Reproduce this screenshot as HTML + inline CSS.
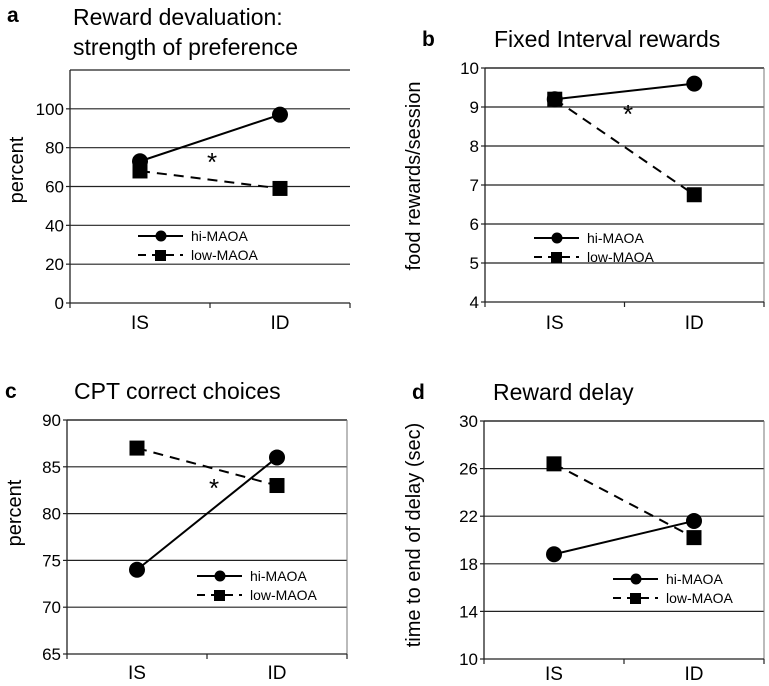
<!DOCTYPE html>
<html><head><meta charset="utf-8"><style>
html,body{margin:0;padding:0;background:#fff;}
svg{display:block;font-family:"Liberation Sans",Arial,sans-serif;}
</style></head><body>
<svg id="fig" width="769" height="686" viewBox="0 0 769 686" xmlns="http://www.w3.org/2000/svg"></svg>
<script>
// Panel data
const categories = ["IS", "ID"];
const aHi = [73, 97];
const aLow = [68, 59];
const aTicks = [0, 20, 40, 60, 80, 100];
const bHi = [9.2, 9.6];
const bLow = [9.2, 6.75];
const bTicks = [4, 5, 6, 7, 8, 9, 10];
const cHi = [74, 86];
const cLow = [87, 83];
const cTicks = [65, 70, 75, 80, 85, 90];
const dHi = [18.8, 21.6];
const dLow = [26.4, 20.2];
const dTicks = [10, 14, 18, 22, 26, 30];

const NS = "http://www.w3.org/2000/svg";
const svg = document.getElementById("fig");
function mk(tag, attrs, parent, text) {
  const e = document.createElementNS(NS, tag);
  for (const k in attrs) e.setAttribute(k, attrs[k]);
  if (text !== undefined) e.textContent = text;
  (parent || svg).appendChild(e);
  return e;
}

function panel(cfg) {
  const g = mk("g", {});
  
  
  const {L, R, T, B, ymin, ymax} = cfg;
  const y = v => B - (v - ymin) / (ymax - ymin) * (B - T);
  const xc = i => L + (R - L) * (i === 0 ? 0.25 : 0.75);
  cfg.ticks.forEach(t => {
    if (t !== ymin) {
      const ln = mk("line", {x1: L, x2: R, y1: y(t), y2: y(t), stroke: "#222", "stroke-width": 1.2}, g);
      
      
    }
    const tl = mk("text", {x: L - 6, y: y(t) + 6, "text-anchor": "end", "font-size": 17}, g, String(t));
    
    
    mk("line", {x1: L - 4, x2: L, y1: y(t), y2: y(t), stroke: "#222", "stroke-width": 1.2}, g);
  });
  mk("line", {x1: L, x2: R, y1: T, y2: T, stroke: "#222", "stroke-width": 1.2}, g);
  const ya = mk("line", {x1: L, x2: L, y1: T, y2: B, stroke: "#222", "stroke-width": 1.3}, g);
  
  
  if (cfg.rborder) mk("line", {x1: R, x2: R, y1: T, y2: B, stroke: "#777", "stroke-width": 1}, g);
  const xa = mk("line", {x1: L, x2: R, y1: B, y2: B, stroke: "#222", "stroke-width": 1.3}, g);
  
  
  [L, (L + R) / 2, R].forEach(x => mk("line", {x1: x, x2: x, y1: B, y2: B + 5, stroke: "#222", "stroke-width": 1.2}, g));
  categories.forEach((c, i) => {
    const t = mk("text", {x: xc(i), y: cfg.catY, "text-anchor": "middle", "font-size": 19}, g, c);
    
    
  });
  const lo = mk("line", {x1: xc(0), y1: y(cfg.low[0]), x2: xc(1), y2: y(cfg.low[1]), stroke: "#000", "stroke-width": 2, "stroke-dasharray": "10,7"}, g);
  
  
  const hi = mk("line", {x1: xc(0), y1: y(cfg.hi[0]), x2: xc(1), y2: y(cfg.hi[1]), stroke: "#000", "stroke-width": 2}, g);
  
  
  cfg.hi.forEach((v, i) => {
    const c = mk("circle", {cx: xc(i), cy: y(v), r: 8, fill: "#000"}, g);
    
    
  });
  cfg.low.forEach((v, i) => {
    const s = mk("rect", {x: xc(i) - 7.5, y: y(v) - 7.5, width: 15, height: 15, fill: "#000"}, g);
    
    
  });
  const lg = mk("g", {}, g);
  
  
  const [lx, ly] = cfg.leg;
  mk("line", {x1: lx, x2: lx + 45, y1: ly, y2: ly, stroke: "#000", "stroke-width": 2}, lg);
  mk("circle", {cx: lx + 23, cy: ly, r: 5.5, fill: "#000"}, lg);
  const t1 = mk("text", {x: lx + 53, y: ly + 5, "font-size": 14}, lg, "hi-MAOA");
  
  
  mk("line", {x1: lx, x2: lx + 45, y1: ly + 19, y2: ly + 19, stroke: "#000", "stroke-width": 2, "stroke-dasharray": "8,6"}, lg);
  mk("rect", {x: lx + 17, y: ly + 14, width: 11, height: 11, fill: "#000"}, lg);
  const t2 = mk("text", {x: lx + 53, y: ly + 24, "font-size": 14}, lg, "low-MAOA");
  
  
  if (cfg.star) {
    const s = mk("text", {x: cfg.star[0], y: cfg.star[1] + 13, "text-anchor": "middle", "font-size": 26}, g, "*");
    
    
  }
  const pl = mk("text", {x: cfg.letter[0], y: cfg.letter[1], "font-size": 21, "font-weight": "bold"}, g, cfg.id);
  
  
  cfg.title.forEach((line, i) => {
    const t = mk("text", {x: cfg.titlePos[0], y: cfg.titlePos[1] + i * 30, "font-size": 23}, g, line);
    
    
  });
  const yl = mk("text", {x: 0, y: 0, "text-anchor": "middle", "font-size": 20, transform: `translate(${cfg.ylab[0]},${cfg.ylab[1]}) rotate(-90)`}, g, cfg.ylabel);
  
  
}

panel({id: "a", L: 70, R: 350, T: 70, B: 303, ymin: 0, ymax: 120, rborder: false, ticks: aTicks, hi: aHi, low: aLow, catY: 329,
  leg: [138, 236], star: [212, 158], letter: [7, 22], title: ["Reward devaluation:", "strength of preference"], titlePos: [73, 25],
  ylabel: "percent", ylab: [23, 170]});
panel({id: "b", L: 485, R: 764, T: 68, B: 302, ymin: 4, ymax: 10, rborder: true, ticks: bTicks, hi: bHi, low: bLow, catY: 329,
  leg: [534, 238], star: [628, 110], letter: [422, 46], title: ["Fixed Interval rewards"], titlePos: [494, 47],
  ylabel: "food rewards/session", ylab: [420, 176]});
panel({id: "c", L: 67, R: 347, T: 420, B: 654, ymin: 65, ymax: 90, rborder: true, ticks: cTicks, hi: cHi, low: cLow, catY: 679,
  leg: [197, 576], star: [214, 484], letter: [5, 398], title: ["CPT correct choices"], titlePos: [74, 399],
  ylabel: "percent", ylab: [21, 513]});
panel({id: "d", L: 484, R: 764, T: 421, B: 659, ymin: 10, ymax: 30, rborder: true, ticks: dTicks, hi: dHi, low: dLow, catY: 680,
  leg: [613, 579], star: null, letter: [412, 399], title: ["Reward delay"], titlePos: [493, 400],
  ylabel: "time to end of delay (sec)", ylab: [420, 535]});
</script>
</body></html>
